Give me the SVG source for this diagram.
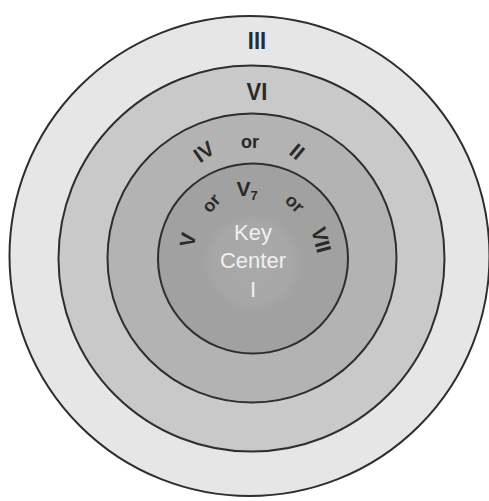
<svg xmlns="http://www.w3.org/2000/svg" width="489" height="501" viewBox="0 0 489 501">
<style>
.ring{stroke:#2e2e2e;stroke-width:2}
.lbl{font-family:"Liberation Sans",Arial,sans-serif;font-weight:bold;fill:#2a2a2a;text-anchor:middle}
.key{font-family:"Liberation Sans",Arial,sans-serif;fill:#f0f0f0;text-anchor:middle;font-size:22px}
</style>
<defs>
<radialGradient id="cg" cx="0.5" cy="0.5" r="0.5">
<stop offset="0" stop-color="#a9a9a9"/>
<stop offset="0.75" stop-color="#a7a7a7"/>
<stop offset="1" stop-color="#a1a1a1" stop-opacity="0"/>
</radialGradient>
</defs>
<rect width="489" height="501" fill="#ffffff"/>
<g id="ring-III">
<circle class="ring" cx="249.5" cy="256" r="240" fill="#e6e6e6"/>
<text class="lbl" x="257" y="49" font-size="22" transform="translate(257,49) scale(1,1.1) translate(-257,-49)">III</text>
</g>
<g id="ring-VI">
<circle class="ring" cx="251.5" cy="258.5" r="193" fill="#c9c9c9"/>
<text class="lbl" x="257" y="100" font-size="22" transform="translate(257,100) scale(1,1.1) translate(-257,-100)">VI</text>
</g>
<g id="ring-IV-II">
<circle class="ring" cx="252" cy="258" r="144.5" fill="#b3b3b3"/>
<text class="lbl" font-size="21" transform="translate(204,152) rotate(-35)" y="7">IV</text>
<text class="lbl" font-size="18" x="250" y="148">or</text>
<text class="lbl" font-size="21" transform="translate(297,152) rotate(40)" y="7">II</text>
</g>
<g id="ring-V-V7-VII">
<circle class="ring" cx="253" cy="258.5" r="95" fill="#a1a1a1"/>
<text class="lbl" font-size="21" x="247" y="196">V<tspan font-size="13" dy="4">7</tspan></text>
<text class="lbl" font-size="18" transform="translate(212,204) rotate(-48)" y="5">or</text>
<text class="lbl" font-size="18" transform="translate(294,204) rotate(45)" y="5">or</text>
<text class="lbl" font-size="21" transform="translate(188,240) rotate(-80)" y="7">V</text>
<text class="lbl" font-size="21" transform="translate(321,240) rotate(75)" y="7">VII</text>
</g>
<g id="key-center">
<circle cx="253" cy="263" r="54" fill="url(#cg)"/>
<text class="key" x="253" y="240">Key</text>
<text class="key" x="253" y="268">Center</text>
<text class="key" x="253" y="297">I</text>
</g>
</svg>
